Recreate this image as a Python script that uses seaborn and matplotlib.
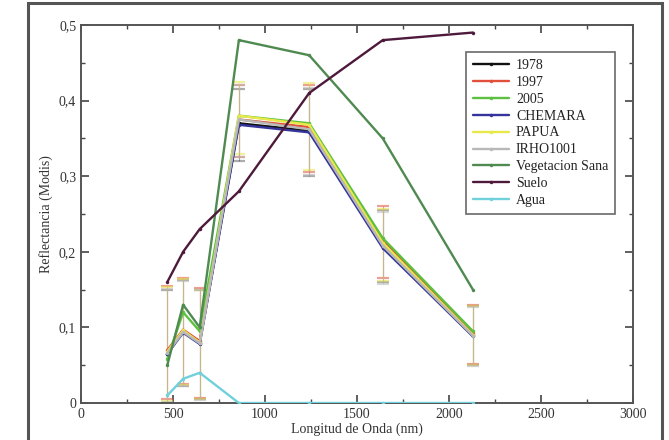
import matplotlib
matplotlib.use("Agg")
import matplotlib.pyplot as plt
import matplotlib.ticker as mticker
from matplotlib.patches import Rectangle
import seaborn as sns
import pandas as pd

# ---- data ----
wavelengths = [469, 555, 645, 858, 1240, 1640, 2130]
series_names = ["1978", "1997", "2005", "CHEMARA", "PAPUA", "IRHO1001",
                "Vegetacion Sana", "Suelo", "Agua"]
v_1978 = [0.065, 0.095, 0.080, 0.370, 0.360, 0.210, 0.090]
v_1997 = [0.070, 0.097, 0.082, 0.375, 0.365, 0.215, 0.092]
v_2005 = [0.058, 0.120, 0.095, 0.380, 0.370, 0.218, 0.095]
v_chemara = [0.065, 0.093, 0.078, 0.368, 0.358, 0.205, 0.088]
v_papua = [0.068, 0.096, 0.080, 0.380, 0.368, 0.212, 0.090]
v_irho = [0.066, 0.094, 0.079, 0.375, 0.362, 0.208, 0.089]
v_veg = [0.050, 0.130, 0.100, 0.480, 0.460, 0.350, 0.150]
v_suelo = [0.160, 0.200, 0.230, 0.280, 0.410, 0.480, 0.490]
v_agua = [0.010, 0.032, 0.040, 0.000, 0.000, 0.000, 0.000]
# asymmetric error (below, above) for palm-plantation series
err_low = [0.065, 0.072, 0.075, 0.050, 0.060, 0.050, 0.040]
err_high = [0.085, 0.068, 0.070, 0.045, 0.055, 0.045, 0.038]

values = [v_1978, v_1997, v_2005, v_chemara, v_papua, v_irho, v_veg, v_suelo, v_agua]
colors = ["#111111", "#e0503a", "#5cc040", "#34349a", "#e8e84a", "#b8b8b8",
          "#4f8a50", "#4e1a3c", "#70d0dc"]
err_series = ["1997", "PAPUA", "IRHO1001", "1978"]

rows = []
for name, vals in zip(series_names, values):
    for w, v in zip(wavelengths, vals):
        rows.append({"wl": w, "refl": v, "serie": name})
df = pd.DataFrame(rows)

sns.set_style("ticks")
plt.rcParams["font.family"] = ["Liberation Serif", "DejaVu Serif"]

fig = plt.figure(figsize=(6.69, 4.40), dpi=100)
ax = fig.add_axes([81 / 669, 1 - 403 / 440, (633 - 81) / 669, (403 - 25) / 440])

palette = dict(zip(series_names, colors))

# error bars
for name, vals in zip(series_names, values):
    if name in err_series:
        a = 0.35 if name == "1978" else 0.55
        ax.errorbar(wavelengths, vals, yerr=[err_low, err_high], fmt="none",
                    ecolor=palette[name], elinewidth=0.8, capsize=4.5,
                    capthick=1.6, alpha=a, zorder=1)

sns.lineplot(data=df, x="wl", y="refl", hue="serie", hue_order=series_names,
             palette=palette, sort=False, linewidth=1.7, marker="o",
             markersize=2.5, markeredgewidth=0, ax=ax, legend=False, zorder=3)

ax.set_xlim(0, 3000)
ax.set_ylim(0, 0.5)
ax.xaxis.set_major_locator(mticker.MultipleLocator(500))
ax.xaxis.set_minor_locator(mticker.MultipleLocator(250))
ax.yaxis.set_major_locator(mticker.MultipleLocator(0.1))
ax.yaxis.set_minor_locator(mticker.MultipleLocator(0.05))
ax.yaxis.set_major_formatter(mticker.FuncFormatter(
    lambda v, p: "0" if abs(v) < 1e-9 else f"{v:.1f}".replace(".", ",")))
ax.xaxis.set_major_formatter(mticker.FuncFormatter(lambda v, p: f"{int(round(v))}"))
ax.tick_params(which="both", direction="in", top=True, right=True,
               colors="#444444", labelcolor="#333333", labelsize=10)
ax.tick_params(which="major", length=6, width=1.2)
ax.tick_params(which="minor", length=3, width=1.0)
for s in ax.spines.values():
    s.set_color("#555555")
    s.set_linewidth(1.4)
    s.set_visible(True)

ax.set_xlabel("Longitud de Onda (nm)", fontsize=10, color="#333333", labelpad=1)
ax.set_ylabel("Reflectancia (Modis)", fontsize=10, color="#333333", labelpad=4)

handles = [plt.Line2D([0], [0], color=c, lw=1.7, marker="o", markersize=2.5,
                      markeredgewidth=0) for c in colors]
leg = ax.legend(handles, series_names, loc="upper left",
                bbox_to_anchor=((466 - 81) / (633 - 81), 1 - (52 - 25) / (403 - 25)),
                frameon=True, fancybox=False, edgecolor="#444444", fontsize=10,
                labelspacing=0.28, handlelength=2.6, handletextpad=0.5,
                borderpad=0.5, borderaxespad=0)
leg.get_frame().set_linewidth(1.2)
for t in leg.get_texts():
    t.set_color("#222222")

fig.add_artist(Rectangle((28 / 669, -0.05), (662 - 28) / 669, 1.05 - 3 / 440,
                         transform=fig.transFigure, fill=False,
                         edgecolor="#555555", linewidth=2.2))

fig.savefig("out.png", dpi=100)
